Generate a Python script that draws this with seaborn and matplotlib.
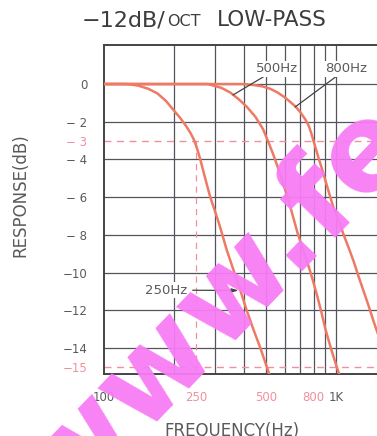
import seaborn as sns
import matplotlib.pyplot as plt
import pandas as pd

sns.set_theme(style="white")
plt.rcParams['font.family'] = ['DejaVu Sans']

# curve readings (frequency in Hz, response in dB)
freq_250 = [100, 125, 140, 155, 170, 185, 200, 213, 225, 236, 245, 253, 260, 273, 287, 300,
            315, 338, 360, 386, 412, 440, 472, 503, 530]
db_250 = [0, 0, -0.08, -0.25, -0.5, -0.9, -1.4, -1.8, -2.2, -2.6, -3.0, -3.5, -4.0, -5.0, -6.0, -6.7,
          -7.5, -8.8, -9.8, -10.9, -12.0, -13.0, -14.0, -15.0, -15.8]
freq_500 = [100, 280, 320, 350, 380, 412, 450, 485, 508, 535, 557, 585, 615, 645, 679, 712,
            750, 790, 828, 865, 900, 955, 1007, 1060]
db_500 = [0, 0, -0.2, -0.45, -0.8, -1.2, -1.75, -2.4, -3.0, -3.7, -4.3, -5.1, -5.9, -6.8, -7.8, -8.6,
          -9.4, -10.3, -11.2, -12.1, -13.0, -14.1, -15.0, -15.8]
freq_800 = [100, 400, 440, 480, 520, 560, 600, 635, 670, 702, 735, 762, 782, 801, 822, 842,
            875, 914, 945, 978, 1030, 1079, 1135, 1191, 1250, 1316, 1385, 1453, 1540]
db_800 = [0, 0, -0.05, -0.12, -0.25, -0.45, -0.7, -0.95, -1.2, -1.5, -1.85, -2.2, -2.6, -3.05, -3.5, -3.95,
          -4.6, -5.4, -6.0, -6.6, -7.3, -8.0, -8.7, -9.4, -10.2, -11.0, -11.8, -12.6, -13.5]

x_ticks = [100, 250, 500, 800, 1000]
x_labels = ["100", "250", "500", "800", "1K"]
y_ticks = [0, -2, -3, -4, -6, -8, -10, -12, -14, -15]
y_labels = ["0", "\u2212 2", "\u2212 3", "\u2212 4", "\u2212 6", "\u2212 8", "\u221210", "\u221212", "\u221214", "\u221215"]
grid_freqs = [200, 300, 400, 500, 600, 700, 800, 900, 1000]
grid_db = [0, -2, -4, -6, -8, -10, -12, -14]

df = pd.concat([
    pd.DataFrame({"freq": freq_250, "db": db_250, "curve": "250Hz"}),
    pd.DataFrame({"freq": freq_500, "db": db_500, "curve": "500Hz"}),
    pd.DataFrame({"freq": freq_800, "db": db_800, "curve": "800Hz"}),
])

curve_c = "#ee7a64"
pink = "#f0909c"
grid_c = "#55535e"
text_c = "#5a5a5a"

fig = plt.figure(figsize=(3.77, 4.36), dpi=100)
ax = fig.add_axes([0.2759, 0.1422, 0.7241, 0.7546])
ax.set_xscale("log")

for f in grid_freqs:
    ax.axvline(f, color=grid_c, lw=0.9, zorder=1)
for d in grid_db:
    ax.axhline(d, color=grid_c, lw=0.9, zorder=1)
ax.axhline(-3, color=pink, lw=1.0, ls=(0, (5, 4)), zorder=1.5)
ax.axhline(-15, color=pink, lw=1.0, ls=(0, (5, 4)), zorder=1.5)
ax.plot([250, 250], [-3, -16], color=pink, lw=0.9, ls=(0, (5, 4)), zorder=1.5)

sns.lineplot(data=df, x="freq", y="db", hue="curve", palette=[curve_c] * 3,
             legend=False, lw=1.8, ax=ax, zorder=3)

ax.set_xlim(100, 1502)
ax.set_ylim(-15.38, 2.07)

ax.set_xticks(x_ticks)
ax.set_xticklabels(x_labels)
ax.xaxis.set_minor_locator(plt.NullLocator())
ax.set_yticks(y_ticks)
ax.set_yticklabels(y_labels)
ax.tick_params(axis="both", length=0, labelsize=8.5, pad=12, labelcolor=text_c)
for lab in ax.get_xticklabels():
    if lab.get_text() in ("250", "500", "800"):
        lab.set_color(pink)
for lab in ax.get_yticklabels():
    if lab.get_text() in ("\u2212 3", "\u221215"):
        lab.set_color(pink)

for s in ["left", "top", "bottom"]:
    ax.spines[s].set_color("#444444")
    ax.spines[s].set_linewidth(1.4)
ax.spines["right"].set_visible(False)

ax.set_xlabel("FREQUENCY(Hz)", fontsize=12, color=text_c)
ax.set_ylabel("RESPONSE(dB)", fontsize=12, color=text_c)
ax.xaxis.set_label_coords(0.469, -0.146)
ax.yaxis.set_label_coords(-0.275, 0.544)

box = dict(facecolor="white", edgecolor="none", pad=1.0)
ax.annotate("500Hz", xy=(360, -0.58), xytext=(450, 0.8), fontsize=9.5, color=text_c,
            ha="left", va="center", bbox=box, zorder=4,
            arrowprops=dict(arrowstyle="-", color="#444444", lw=0.9, shrinkA=0, shrinkB=0))
ax.annotate("800Hz", xy=(666, -1.22), xytext=(900, 0.8), fontsize=9.5, color=text_c,
            ha="left", va="center", bbox=box, zorder=4,
            arrowprops=dict(arrowstyle="-", color="#444444", lw=0.9, shrinkA=0, shrinkB=0))
ax.annotate("250Hz", xy=(380, -10.95), xytext=(228, -10.93), fontsize=9.5, color=text_c,
            ha="right", va="center", bbox=box, zorder=4,
            arrowprops=dict(arrowstyle="-|>,head_length=0.4,head_width=0.12", color="#444444",
                            lw=0.9, shrinkA=3, shrinkB=0))

# title, with small-caps OCT
fig.text(165 / 377, 1 - 26 / 436, "\u221212dB/", fontsize=16, color="#3c3c3c", ha="right", va="baseline")
fig.text(167 / 377, 1 - 26 / 436, "OCT", fontsize=11.5, color="#3c3c3c", ha="left", va="baseline")
fig.text(217 / 377, 1 - 26 / 436, "LOW-PASS", fontsize=15.5, color="#3c3c3c", ha="left", va="baseline")

# watermark
fig.text(63 / 377, 1 - 515 / 436, "www.fe", fontsize=88, fontweight="bold", family="DejaVu Sans",
         color="#f77cf5", rotation=46, rotation_mode="anchor", ha="left", va="baseline",
         alpha=0.95, zorder=10)

fig.savefig("out.png", dpi=100)
